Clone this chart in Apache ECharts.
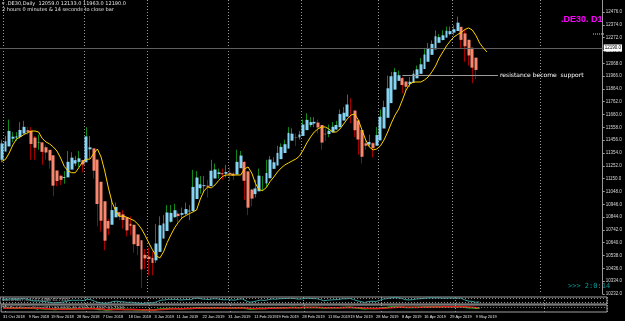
<!DOCTYPE html>
<html>
<head>
<meta charset="utf-8">
<title>.DE30 D1</title>
<script src="https://cdn.jsdelivr.net/npm/echarts@6/dist/echarts.min.js"></script>
<style>
html,body{margin:0;padding:0;background:#000;}
#main{width:625px;height:321px;}
</style>
</head>
<body>
<div id="main"></div>
<script>
// heiken ashi bodies as they show on the chart
var haOpen = [11300,11365,11406,11468,11476,11481,11509,11535,11529,11477,
  11437,11438,11400,11379,11336,11215,11173,11156,11160,11222,
  11270,11283,11298,11280,11383,11391,11302,11125,10970,10813,
  10783,10842,10883,10866,10844,10791,10783,10706,10660,10544,
  10530,10520,10500,10567,10673,10733,10807,10843,10871,10862,
  10869,10889,10892,10988,11074,11090,11094,11090,11151,11187,
  11193,11189,11196,11190,11182,11233,11283,11208,11063,11027,
  11049,11112,11112,11153,11228,11254,11305,11354,11389,11452,
  11480,11479,11490,11536,11577,11589,11596,11577,11507,11505,
  11518,11541,11559,11612,11643,11692,11692,11613,11537,11431,
  11421,11432,11412,11454,11549,11634,11751,11858,11928,11950,
  11923,11902,11911,11948,11984,12022,12080,12135,12178,12231,
  12253,12272,12300,12312,12325,12358,12306,12255,12192,12113];
var haClose = [11430,11447,11530,11484,11486,11537,11562,11522,11426,11396,
  11440,11363,11358,11294,11094,11131,11140,11163,11284,11317,
  11297,11312,11262,11486,11399,11213,10948,10815,10656,10753,
  10900,10924,10849,10821,10738,10774,10628,10614,10428,10515,
  10510,10479,10634,10779,10793,10881,10878,10899,10852,10876,
  10908,10895,11084,11159,11105,11098,11085,11213,11223,11200,
  11185,11203,11185,11174,11284,11334,11133,10919,10991,11072,
  11174,11112,11195,11302,11280,11355,11403,11424,11514,11508,
  11477,11501,11581,11618,11600,11602,11557,11437,11503,11531,
  11563,11577,11664,11674,11740,11691,11535,11461,11324,11412,
  11442,11392,11497,11643,11719,11869,11965,11998,11973,11895,
  11881,11921,11985,12020,12060,12138,12190,12222,12283,12276,
  12291,12327,12324,12339,12391,12254,12203,12130,12033,12015];
// daily high / low (the thin bars)
var highs = [11460,11490,11620,11520,11520,11600,11610,11560,11560,11490,
  11500,11440,11420,11370,11160,11200,11180,11210,11370,11360,
  11330,11370,11300,11560,11490,11270,11110,10920,10720,10830,
  10980,10960,10880,10900,10790,10850,10690,10680,10550,10590,
  10600,10570,10790,10850,10860,10940,10940,10950,10890,10920,
  10960,10940,11220,11210,11170,11170,11140,11300,11270,11230,
  11230,11260,11240,11200,11380,11370,11290,10960,11070,11140,
  11230,11170,11300,11330,11320,11410,11430,11460,11560,11550,
  11510,11530,11620,11670,11640,11640,11620,11480,11550,11580,
  11600,11610,11700,11720,11820,11790,11570,11580,11380,11460,
  11500,11440,11560,11700,11770,11970,12000,12030,12010,11960,
  11920,11960,12010,12050,12110,12190,12230,12250,12330,12300,
  12330,12360,12360,12370,12440,12300,12340,12200,12130,12080];
var lows = [11280,11380,11480,11440,11450,11470,11510,11500,11300,11300,
  11380,11260,11300,11230,11010,11090,11100,11110,11200,11270,
  11250,11240,11200,11450,11310,11150,10770,10730,10580,10700,
  10840,10880,10820,10750,10690,10700,10560,10540,10279,10430,
  10380,10380,10480,10720,10740,10840,10800,10840,10800,10830,
  10860,10820,10950,11110,11030,11040,11000,11130,11170,11150,
  11140,11160,11130,11140,11190,11280,10980,10860,10930,11000,
  11140,11050,11080,11270,11230,11300,11360,11380,11480,11460,
  11410,11460,11540,11580,11560,11560,11510,11380,11450,11480,
  11520,11540,11630,11640,11670,11590,11480,11340,11270,11380,
  11400,11320,11440,11590,11670,11770,11920,11960,11930,11830,
  11840,11880,11960,11990,12000,12100,12140,12170,12240,12230,
  12250,12300,12290,12290,12350,12180,12080,12050,11910,11940];
// yellow moving average (runs 3 bars past the last candle)
var maLine = [11287,11303,11354,11418,11466,11481,11501,11515,11529,11529,
  11521,11470,11442,11426,11402,11370,11314,11247,11211,11197,
  11197,11239,11287,11303,11306,11350,11386,11322,11211,11076,
  10960,10893,10849,10853,10843,10829,10816,10789,10750,10698,
  10638,10583,10535,10519,10567,10642,10702,10758,10801,10837,
  10855,10871,10885,10901,10988,11052,11084,11076,11100,11135,
  11167,11179,11179,11179,11179,11179,11227,11243,11195,11112,
  11060,11056,11080,11127,11163,11203,11235,11259,11275,11291,
  11306,11330,11378,11434,11481,11521,11545,11561,11561,11545,
  11521,11521,11545,11585,11625,11656,11664,11617,11537,11458,
  11402,11378,11386,11410,11458,11521,11593,11656,11704,11776,
  11855,11903,11919,11919,11919,11935,11959,11999,12046,12110,
  12158,12206,12245,12277,12297,12313,12337,12349,12333,12289,
  12229,12190,12158];
// first sub window oscillator
var stochMain = [60,65,72,70,68,72,75,66,50,42,
  45,35,33,25,15,20,24,30,45,55,
  52,55,48,70,62,40,22,15,10,18,
  35,40,33,30,22,26,15,14,8,16,
  17,15,35,55,58,68,66,67,58,60,
  64,62,80,84,72,68,64,75,74,66,
  60,62,58,55,70,72,45,25,32,45,
  58,50,62,72,68,75,78,78,82,78,
  70,72,80,82,77,76,65,45,55,58,
  62,63,75,74,80,65,45,35,22,35,
  40,35,50,70,76,86,90,88,80,62,
  58,63,72,75,80,85,88,86,88,82,
  83,85,83,82,86,60,42,38,25,30];
// second sub window: green (fast) and red (signal) lines
var tdiGreen = [55,56,58,58,57,58,59,56,52,50,
  50,47,46,43,37,38,39,41,46,48,
  47,48,46,53,50,45,37,34,30,33,
  38,40,38,37,34,35,31,31,27,31,
  32,30,38,44,45,49,50,50,48,49,
  51,50,58,60,57,56,55,59,59,57,
  56,57,56,55,60,61,50,44,46,50,
  53,51,56,58,57,60,61,62,64,64,
  62,63,66,66,65,65,61,56,59,60,
  61,62,66,65,68,62,56,50,46,50,
  51,50,55,61,64,70,72,72,70,64,
  63,65,67,68,70,72,74,74,75,74,
  75,76,76,76,78,68,60,60,52,55];
var tdiRed = [55,55,56,57,57,57,58,57,56,54,
  52,50,48,46,43,41,40,39,41,43,
  45,46,46,48,49,48,45,41,37,34,
  35,36,37,37,36,35,34,33,31,30,
  30,30,32,35,38,42,45,47,48,48,
  49,50,52,54,56,56,56,57,57,57,
  57,57,56,56,57,58,56,53,51,49,
  50,51,53,54,56,57,58,60,61,62,
  62,63,64,64,65,65,64,62,61,60,
  60,61,62,63,64,64,62,59,55,52,
  51,50,51,54,57,61,65,68,70,69,
  68,67,66,67,68,69,71,72,73,74,
  74,75,75,76,76,74,71,67,63,60];

var holidays = ['2018-12-24','2018-12-25','2018-12-26','2018-12-31','2019-01-01','2019-04-19','2019-04-22','2019-05-01'];
var monthNames = ['Jan','Feb','Mar','Apr','May','Jun','Jul','Aug','Sep','Oct','Nov','Dec'];
var totalSlots = 164;
var labelIdx = [0,7,13,20,27,34,41,47,54,61,68,74,81,88,94,101,108,114,121,128];
var separatorIdx = [1,23,40,62,82,103,123,147];
var bidPrice = 12190;
var supportLevel = 11975, supportFrom = 109, supportTo = 135;

var categories = [];
var d = new Date(Date.UTC(2018, 9, 31));
while (categories.length < totalSlots) {
  var wd = d.getUTCDay();
  var iso = d.toISOString().slice(0, 10);
  if (wd != 0 && wd != 6 && holidays.indexOf(iso) < 0) {
    categories.push(d.getUTCDate() + ' ' + monthNames[d.getUTCMonth()] + ' ' + d.getUTCFullYear());
  }
  d.setUTCDate(d.getUTCDate() + 1);
}

var wickData = [], bodyData = [];
for (var i = 0; i < haOpen.length; i++) {
  var up = haClose[i] >= haOpen[i];
  wickData.push(up ? [lows[i], highs[i], lows[i], highs[i]] : [highs[i], lows[i], lows[i], highs[i]]);
  bodyData.push([haOpen[i], haClose[i], Math.min(haOpen[i], haClose[i]), Math.max(haOpen[i], haClose[i])]);
}

var sepLine = {
  show: true,
  interval: function (idx) { return separatorIdx.indexOf(idx) >= 0; },
  lineStyle: { color: '#9a9a9a', width: 1, type: [1, 2] }
};

function xAx(gi, withLabels) {
  return {
    type: 'category', gridIndex: gi, data: categories, boundaryGap: true,
    axisLine: { show: false }, axisTick: { show: false },
    axisLabel: withLabels ? {
      show: true, interval: function (idx) { return labelIdx.indexOf(idx) >= 0; },
      color: '#e6e6e6', fontSize: 4, fontFamily: 'Liberation Sans', align: 'left', margin: 3, hideOverlap: false
    } : { show: false },
    splitLine: sepLine
  };
}

function subY(gi) {
  return { type: 'value', gridIndex: gi, position: 'right', min: 0, max: 100,
    axisLine: { show: false }, axisTick: { show: false }, axisLabel: { show: false }, splitLine: { show: false } };
}

var dotted = { color: '#8c8c8c', width: 1, type: [1, 2] };

var chart = echarts.init(document.getElementById('main'), null, { renderer: 'canvas' });
chart.setOption({
  backgroundColor: '#000',
  animation: false,
  grid: [
    { left: 0, right: 18, top: 0, height: 294 },
    { left: 0, right: 18, top: 297, height: 7, show: true, borderColor: '#a0a0a0', borderWidth: 1, backgroundColor: '#000' },
    { left: 0, right: 18, top: 305, height: 7, show: true, borderColor: '#a0a0a0', borderWidth: 1, backgroundColor: '#000' }
  ],
  xAxis: [xAx(0, false), xAx(1, false), xAx(2, true)],
  yAxis: [
    {
      type: 'value', gridIndex: 0, position: 'right', min: 10232, max: 12571.5, interval: 102,
      axisLine: { show: true, lineStyle: { color: '#9a9a9a' } },
      axisTick: { show: true, length: 2, lineStyle: { color: '#9a9a9a' } },
      axisLabel: { color: '#d8d8d8', fontSize: 4.5, fontFamily: 'Liberation Sans', margin: 3, showMaxLabel: false,
        formatter: function (v) { return v.toFixed(1); } },
      splitLine: { show: false }
    },
    subY(1), subY(2)
  ],
  series: [
    {
      name: 'wicks', type: 'candlestick', xAxisIndex: 0, yAxisIndex: 0, data: wickData, barWidth: 1,
      itemStyle: { color: '#11881a', color0: '#a00000', borderColor: '#11881a', borderColor0: '#a00000', borderWidth: 1 }
    },
    {
      name: 'HA', type: 'candlestick', xAxisIndex: 0, yAxisIndex: 0, data: bodyData, barWidth: 3.4,
      itemStyle: { color: '#87d3f2', color0: '#f8876f', borderColor: '#87d3f2', borderColor0: '#f8876f', borderWidth: 0 },
      markLine: {
        symbol: 'none', silent: true, animation: false,
        data: [
          { yAxis: bidPrice, lineStyle: { color: '#5e5e5e', width: 1, type: 'solid' },
            label: { show: true, position: 'end', formatter: bidPrice.toFixed(1), color: '#000', backgroundColor: '#fff',
              fontSize: 4.5, fontFamily: 'Liberation Sans', padding: [1, 1], distance: 1 } },
          [
            { coord: [supportFrom, supportLevel], lineStyle: { color: '#9a9a9a', width: 1, type: 'solid' },
              label: { show: true, position: 'end', formatter: 'resistance become  support', color: '#fff',
                fontSize: 6, fontFamily: 'DejaVu Sans', distance: 2, padding: [0, 0, 7, 0] } },
            { coord: [supportTo, supportLevel] }
          ]
        ]
      }
    },
    {
      name: 'MA', type: 'line', xAxisIndex: 0, yAxisIndex: 0, data: maLine, showSymbol: false,
      lineStyle: { color: '#ffd200', width: 1 }, z: 5
    },
    {
      name: 'Stoch', type: 'line', xAxisIndex: 1, yAxisIndex: 1, data: stochMain, showSymbol: false,
      lineStyle: { color: '#3fa3a3', width: 1 },
      markLine: { symbol: 'none', silent: true, label: { show: false }, lineStyle: dotted, data: [{ yAxis: 20 }, { yAxis: 80 }] }
    },
    {
      name: 'TDI green', type: 'line', xAxisIndex: 2, yAxisIndex: 2, data: tdiGreen, showSymbol: false,
      lineStyle: { color: '#22c022', width: 1.5 },
      markLine: { symbol: 'none', silent: true, label: { show: false }, lineStyle: dotted, data: [{ yAxis: 68 }] }
    },
    {
      name: 'TDI red', type: 'line', xAxisIndex: 2, yAxisIndex: 2, data: tdiRed, showSymbol: false,
      lineStyle: { color: '#e01818', width: 1.5 }
    }
  ],
  graphic: [
    { type: 'text', left: 2, top: 1, style: { text: '\u25BE .DE30,Daily  12059.0 12133.0 11963.0 12190.0', fill: '#e6e6e6', fontSize: 5, fontFamily: 'DejaVu Sans' } },
    { type: 'text', left: 2, top: 7, style: { text: '2 hours 0 minutes & 14 seconds to close bar', fill: '#e6e6e6', fontSize: 5, fontFamily: 'DejaVu Sans' } },
    { type: 'text', left: 561, top: 15, style: { text: '.DE30. D1', fill: '#ff00ff', fontSize: 9, fontWeight: 'bold', fontFamily: 'Liberation Sans' } },
    { type: 'line', shape: { x1: 593, y1: 34, x2: 604, y2: 34 }, style: { stroke: '#ffd800', lineWidth: 1, lineDash: [1, 1] } },
    { type: 'text', left: 568, top: 283, style: { text: '>>> 2:0:14', fill: '#0a9a9a', fontSize: 7, fontFamily: 'DejaVu Sans Mono' } },
    { type: 'text', left: 2, top: 298, style: { text: 'StochRSI(7,3,3) 41.4356 41.7333', fill: '#d0d0d0', fontSize: 4, fontFamily: 'DejaVu Sans' } },
    { type: 'text', left: 2, top: 306, style: { text: 'TDI Red Green Signal(21) 60.0000 46.6364 43.4937 61.7134', fill: '#d0d0d0', fontSize: 4, fontFamily: 'DejaVu Sans' } }
  ]
});
</script>
</body>
</html>
